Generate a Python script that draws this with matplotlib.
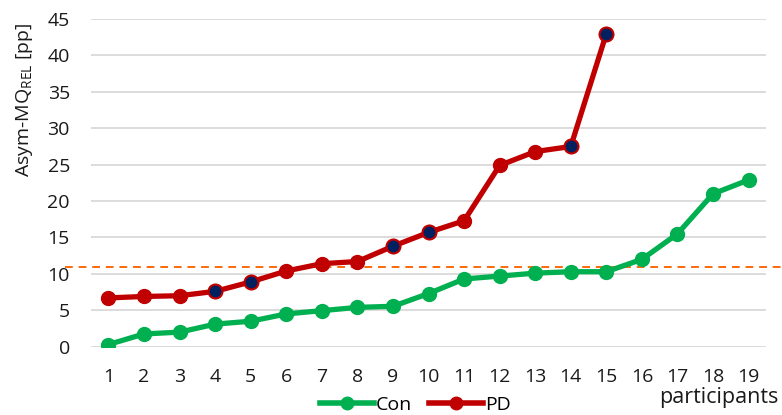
import matplotlib
matplotlib.use("Agg")
import matplotlib.pyplot as plt
from matplotlib.lines import Line2D

participants = list(range(1, 20))
con = [0.3, 1.75, 2.0, 3.1, 3.5, 4.5, 4.95, 5.4, 5.55, 7.3, 9.3, 9.7, 10.1, 10.3, 10.3, 12.0, 15.5, 21.0, 22.9]
pd_x = list(range(1, 16))
pd_vals = [6.7, 6.9, 7.0, 7.6, 8.9, 10.4, 11.4, 11.7, 13.8, 15.7, 17.3, 24.9, 26.8, 27.5, 43.0]
pd_highlight = [4, 5, 9, 10, 14, 15]
threshold = 10.9
yticks = [0, 5, 10, 15, 20, 25, 30, 35, 40, 45]

GREEN = "#00B050"
RED = "#C00000"
NAVY = "#002060"
ORANGE = "#FA6A0A"
TXT = "#1a1a1a"
FS = 14

plt.rcParams['font.family'] = ['Open Sans', 'DejaVu Sans']
plt.rcParams['mathtext.fontset'] = 'custom'
plt.rcParams['mathtext.rm'] = 'Open Sans'

fig = plt.figure(figsize=(7.82, 4.15), dpi=100)
ax = fig.add_axes([0.116, 0.1646, 0.864, 0.7894])

ax.set_xlim(0.5, 19.5)
ax.set_ylim(0, 45)
ax.set_yticks(yticks)
ax.set_xticks(participants)
ax.grid(axis='y', color='#D9D9D9', linewidth=1.3)
ax.set_axisbelow(True)
for s in ax.spines.values():
    s.set_visible(False)
ax.tick_params(axis='both', length=0, labelsize=FS, colors=TXT)
ax.tick_params(axis='x', pad=15)
ax.tick_params(axis='y', pad=15)

ax.axhline(threshold, xmin=-0.038, xmax=1.03, color=ORANGE, linestyle=(0, (4, 3)),
           linewidth=1.4, clip_on=False, zorder=1)

ax.plot(participants, con, color=GREEN, linewidth=3.8, marker='o', markersize=10,
        markerfacecolor=GREEN, markeredgecolor=GREEN, zorder=3)
ax.plot(pd_x, pd_vals, color=RED, linewidth=3.8, marker='o', markersize=10,
        markerfacecolor=RED, markeredgecolor=RED, zorder=4)
hx = [x for x in pd_highlight]
hy = [pd_vals[x - 1] for x in pd_highlight]
ax.plot(hx, hy, linestyle='none', marker='o', markersize=10,
        markerfacecolor=NAVY, markeredgecolor=RED, markeredgewidth=1.5, zorder=5)

ax.set_ylabel(r'Asym-MQ$_{\mathrm{REL}}$ [pp]', fontsize=FS, color=TXT)
ax.yaxis.set_label_coords(-0.083, 0.755)

fig.text(0.995, 0.043, 'participants', ha='right', va='center', fontsize=15.5, color=TXT)

handles = [Line2D([0], [0], color=GREEN, linewidth=4, marker='o', markersize=9),
           Line2D([0], [0], color=RED, linewidth=4, marker='o', markersize=9)]
fig.legend(handles, ['Con', 'PD'], loc='center', bbox_to_anchor=(0.531, 0.024), ncol=2,
           frameon=False, fontsize=FS, handlelength=2.75, handletextpad=0.1,
           columnspacing=0.9, borderaxespad=0, borderpad=0)

fig.savefig('out.png', dpi=100)
